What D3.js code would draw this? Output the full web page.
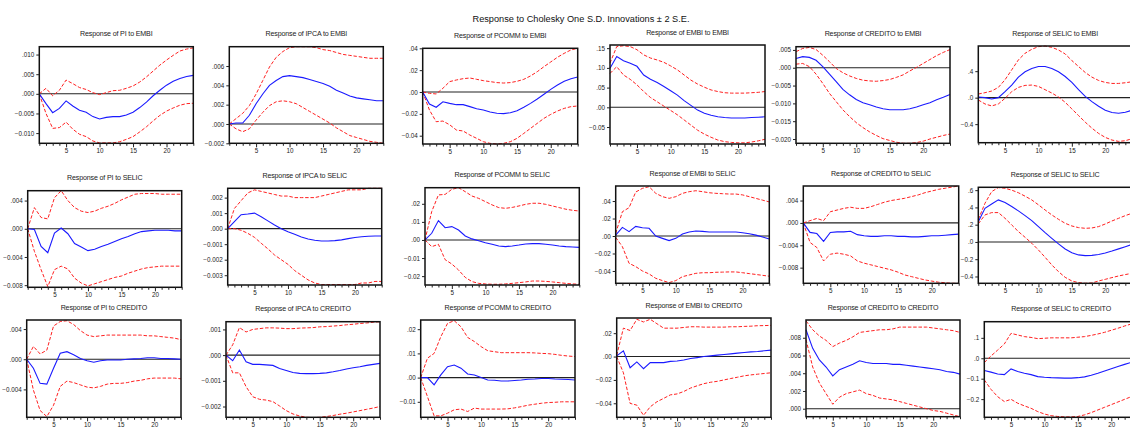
<!DOCTYPE html>
<html>
<head>
<meta charset="utf-8">
<script src="https://cdn.jsdelivr.net/npm/d3@7"></script>
<style>
  body { margin: 0; background: #fff; }
  svg { display: block; font-family: "Liberation Sans", Arial, sans-serif; }
</style>
</head>
<body>
<svg id="chart"></svg>
<script>
var width = 1130;
var height = 428;

// horizon (periods) and variable names
var periods = d3.range(1, 25);
var responses = ["PI", "IPCA", "PCOMM", "EMBI", "CREDITO", "SELIC"];
var shocks = ["EMBI", "SELIC", "CREDITO"];
var mainTitle = "Response to Cholesky One S.D. Innovations \u00b1 2 S.E.";

// ---- shock: EMBI ----
var piEmbi   = [0, -0.0025, -0.0048, -0.0037, -0.0018, -0.0031, -0.0042, -0.0047, -0.0058, -0.0064, -0.0060, -0.0058, -0.0058, -0.0054, -0.0047, -0.0035, -0.0021, -0.0005, 0.0009, 0.0022, 0.0032, 0.0039, 0.0044, 0.0047];
var piEmbiHi = [0, 0.0014, -0.0005, 0.0009, 0.0035, 0.0026, 0.0016, 0.0011, 0.0003, -0.0002, 0.0003, 0.0008, 0.0009, 0.0014, 0.0020, 0.0030, 0.0043, 0.0058, 0.0073, 0.0086, 0.0098, 0.0109, 0.0114, 0.0117];
var piEmbiLo = [0, -0.0050, -0.0088, -0.0086, -0.0072, -0.0090, -0.0103, -0.0109, -0.0120, -0.0125, -0.0125, -0.0125, -0.0122, -0.0116, -0.0109, -0.0097, -0.0084, -0.0069, -0.0055, -0.0044, -0.0036, -0.0029, -0.0025, -0.0024];

var ipcaEmbi   = [0, 0.0001, 0.0001, 0.0009, 0.0021, 0.0031, 0.0040, 0.0045, 0.0049, 0.0050, 0.0049, 0.0048, 0.0046, 0.0044, 0.0042, 0.0039, 0.0035, 0.0032, 0.0029, 0.0027, 0.0026, 0.0025, 0.0024, 0.0024];
var ipcaEmbiHi = [0, 0.00055, 0.0011, 0.0019, 0.0031, 0.0045, 0.0059, 0.0069, 0.0075, 0.0079, 0.0080, 0.0080, 0.0080, 0.0079, 0.0077, 0.0076, 0.0074, 0.0072, 0.0071, 0.0070, 0.0069, 0.0068, 0.0068, 0.0068];
var ipcaEmbiLo = [0, -0.0005, -0.0008, -0.0005, 0.0004, 0.0012, 0.0019, 0.0023, 0.0024, 0.0023, 0.0021, 0.0017, 0.0013, 0.0009, 0.0005, 0.0001, -0.0004, -0.0008, -0.0012, -0.0014, -0.0016, -0.0018, -0.0019, -0.0020];

var pcommEmbi   = [0, -0.011, -0.014, -0.009, -0.0104, -0.0116, -0.0116, -0.0134, -0.0153, -0.0165, -0.0183, -0.0195, -0.0198, -0.019, -0.0171, -0.014, -0.0104, -0.0064, -0.0021, 0.0024, 0.0064, 0.0098, 0.0122, 0.0137];
var pcommEmbiHi = [0, -0.0012, -0.0018, 0.0034, 0.0095, 0.011, 0.0122, 0.0128, 0.0116, 0.0104, 0.0095, 0.0086, 0.0082, 0.0086, 0.0098, 0.0116, 0.0147, 0.0186, 0.0232, 0.0275, 0.0318, 0.0354, 0.0385, 0.040];
var pcommEmbiLo = [0, -0.0165, -0.0272, -0.0266, -0.030, -0.0348, -0.0357, -0.0394, -0.0424, -0.0455, -0.047, -0.0476, -0.047, -0.0455, -0.0424, -0.0379, -0.0333, -0.0287, -0.0241, -0.0205, -0.0174, -0.015, -0.0134, -0.0128];

var embiEmbi   = [0.099, 0.129, 0.118, 0.112, 0.104, 0.082, 0.071, 0.063, 0.053, 0.042, 0.031, 0.017, 0.005, -0.007, -0.015, -0.020, -0.024, -0.026, -0.027, -0.027, -0.027, -0.026, -0.025, -0.024];
var embiEmbiHi = [0.112, 0.154, 0.156, 0.154, 0.146, 0.133, 0.125, 0.120, 0.114, 0.105, 0.095, 0.082, 0.069, 0.059, 0.051, 0.044, 0.040, 0.037, 0.036, 0.036, 0.036, 0.037, 0.038, 0.040];
var embiEmbiLo = [0.086, 0.103, 0.082, 0.071, 0.057, 0.040, 0.025, 0.014, 0.003, -0.008, -0.019, -0.032, -0.045, -0.058, -0.068, -0.076, -0.083, -0.087, -0.089, -0.090, -0.090, -0.088, -0.085, -0.081];

var credEmbi   = [0.0026, 0.0031, 0.0029, 0.0021, 0.0003, -0.0018, -0.0039, -0.0061, -0.0076, -0.0089, -0.0098, -0.0104, -0.011, -0.0115, -0.0118, -0.0118, -0.0118, -0.0115, -0.011, -0.0104, -0.0098, -0.009, -0.0083, -0.0075];
var credEmbiHi = [0.0045, 0.0054, 0.0057, 0.0051, 0.0035, 0.0017, -0.0002, -0.0014, -0.0023, -0.003, -0.0035, -0.0037, -0.0038, -0.0036, -0.0033, -0.0027, -0.002, -0.0009, 0.0001, 0.0012, 0.0023, 0.0034, 0.0043, 0.0051];
var credEmbiLo = [0.001, 0.0012, 0.0003, -0.0018, -0.0044, -0.0072, -0.0095, -0.0118, -0.0137, -0.0154, -0.0168, -0.018, -0.019, -0.0199, -0.0204, -0.0209, -0.0212, -0.0212, -0.021, -0.0206, -0.020, -0.0195, -0.019, -0.0186];

var selicEmbi   = [0.01, 0, -0.02, 0, 0.09, 0.19, 0.31, 0.39, 0.44, 0.47, 0.47, 0.44, 0.39, 0.32, 0.23, 0.12, 0.02, -0.06, -0.13, -0.19, -0.225, -0.235, -0.22, -0.19];
var selicEmbiHi = [0.055, 0.075, 0.10, 0.155, 0.27, 0.42, 0.57, 0.67, 0.73, 0.77, 0.78, 0.76, 0.72, 0.66, 0.56, 0.47, 0.38, 0.31, 0.26, 0.23, 0.215, 0.215, 0.225, 0.24];
var selicEmbiLo = [-0.035, -0.095, -0.125, -0.095, -0.01, 0.09, 0.155, 0.185, 0.19, 0.17, 0.12, 0.07, 0.01, -0.07, -0.17, -0.27, -0.37, -0.46, -0.54, -0.60, -0.64, -0.66, -0.65, -0.62];

// ---- shock: SELIC ----
var piSelic   = [0, -0.0001, -0.0025, -0.0034, -0.0006, 0.0001, -0.0007, -0.0021, -0.0026, -0.0031, -0.0029, -0.0025, -0.0022, -0.0018, -0.0014, -0.0011, -0.0007, -0.0004, -0.0003, -0.0002, -0.0002, -0.0002, -0.0003, -0.0003];
var piSelicHi = [0, 0.003, 0.0016, 0.0014, 0.0044, 0.0054, 0.004, 0.003, 0.0025, 0.0023, 0.0025, 0.0029, 0.0032, 0.0036, 0.0041, 0.0045, 0.0049, 0.005, 0.005, 0.005, 0.0049, 0.0049, 0.0049, 0.0049];
var piSelicLo = [0, -0.0032, -0.0058, -0.0082, -0.0058, -0.0053, -0.0057, -0.007, -0.0077, -0.0081, -0.0078, -0.0075, -0.0072, -0.0069, -0.0067, -0.0063, -0.006, -0.0057, -0.0055, -0.0054, -0.0053, -0.0053, -0.0053, -0.0053];

var ipcaSelic   = [0, 0.00045, 0.0009, 0.00094, 0.001, 0.00077, 0.0005, 0.00024, 0, -0.0002, -0.00036, -0.00054, -0.00067, -0.00075, -0.0008, -0.0008, -0.00077, -0.00072, -0.00064, -0.00057, -0.00052, -0.00049, -0.00047, -0.00047];
var ipcaSelicHi = [0, 0.0013, 0.0018, 0.0023, 0.0025, 0.0024, 0.0023, 0.0022, 0.0021, 0.0021, 0.002, 0.002, 0.002, 0.002, 0.0021, 0.0022, 0.0023, 0.0024, 0.0025, 0.0025, 0.0025, 0.0026, 0.0026, 0.0026];
var ipcaSelicLo = [0, 0, -0.0001, -0.0003, -0.00056, -0.00094, -0.0013, -0.0017, -0.002, -0.0023, -0.0027, -0.003, -0.0033, -0.0035, -0.0036, -0.0036, -0.0036, -0.0036, -0.0036, -0.0036, -0.0035, -0.0035, -0.0034, -0.0034];

var pcommSelic   = [0, 0.0037, 0.0107, 0.0068, 0.0074, 0.0055, 0.0022, 0.0006, -0.0004, -0.0015, -0.0024, -0.0033, -0.0037, -0.0033, -0.0028, -0.0022, -0.002, -0.002, -0.0024, -0.0028, -0.0033, -0.0037, -0.0039, -0.0041];
var pcommSelicHi = [0, 0.0157, 0.0249, 0.0252, 0.028, 0.0289, 0.0267, 0.0243, 0.023, 0.0212, 0.0194, 0.0179, 0.0175, 0.018, 0.0188, 0.0197, 0.0203, 0.0203, 0.0197, 0.0188, 0.0179, 0.017, 0.0164, 0.016];
var pcommSelicLo = [0, -0.0037, -0.0024, -0.0109, -0.0133, -0.0166, -0.0207, -0.023, -0.024, -0.0243, -0.0245, -0.0245, -0.0243, -0.024, -0.0236, -0.0232, -0.0227, -0.0227, -0.0229, -0.0232, -0.0236, -0.024, -0.0243, -0.0245];

var embiSelic   = [0.001, 0.0099, 0.005, 0.011, 0.0095, 0.0088, 0, -0.0027, -0.0053, -0.0027, 0.0023, 0.0046, 0.0057, 0.0053, 0.0046, 0.0046, 0.0046, 0.0046, 0.0045, 0.0038, 0.0025, 0.001, -0.0012, -0.0035];
var embiSelicHi = [0.003, 0.0278, 0.0324, 0.0503, 0.0545, 0.0564, 0.0488, 0.045, 0.0431, 0.045, 0.0488, 0.0507, 0.0518, 0.0507, 0.0495, 0.0488, 0.0484, 0.048, 0.048, 0.047, 0.045, 0.043, 0.041, 0.039];
var embiSelicLo = [-0.0015, -0.0122, -0.0312, -0.035, -0.040, -0.0434, -0.0484, -0.051, -0.0533, -0.051, -0.0465, -0.0446, -0.0427, -0.042, -0.042, -0.0415, -0.0413, -0.0411, -0.0411, -0.042, -0.043, -0.044, -0.045, -0.046];

var credSelic   = [0, -0.0017, -0.0019, -0.0033, -0.0017, -0.0016, -0.0016, -0.0015, -0.0021, -0.0023, -0.0024, -0.0024, -0.0023, -0.0023, -0.0024, -0.0024, -0.0025, -0.0025, -0.0024, -0.0023, -0.0023, -0.0022, -0.0021, -0.002];
var credSelicHi = [0, 0.0004, 0.0008, 0.0004, 0.002, 0.0023, 0.0026, 0.0028, 0.0026, 0.0026, 0.0029, 0.0033, 0.0037, 0.004, 0.0042, 0.0044, 0.0047, 0.005, 0.0054, 0.0057, 0.006, 0.0062, 0.0064, 0.0066];
var credSelicLo = [0, -0.0035, -0.0044, -0.0068, -0.0056, -0.0054, -0.0056, -0.0059, -0.0068, -0.0072, -0.0075, -0.0078, -0.0081, -0.0084, -0.0088, -0.0093, -0.0096, -0.0099, -0.0102, -0.0104, -0.0106, -0.0107, -0.0108, -0.0108];

var selicSelic   = [0.235, 0.39, 0.44, 0.487, 0.456, 0.41, 0.36, 0.305, 0.247, 0.178, 0.108, 0.042, -0.023, -0.081, -0.124, -0.15, -0.158, -0.155, -0.145, -0.128, -0.105, -0.08, -0.055, -0.03];
var selicSelicHi = [0.26, 0.448, 0.583, 0.63, 0.622, 0.6, 0.57, 0.53, 0.487, 0.43, 0.37, 0.313, 0.262, 0.216, 0.185, 0.166, 0.158, 0.162, 0.178, 0.208, 0.243, 0.274, 0.305, 0.332];
var selicSelicLo = [0.21, 0.313, 0.34, 0.34, 0.274, 0.197, 0.12, 0.054, -0.015, -0.093, -0.178, -0.266, -0.344, -0.41, -0.452, -0.471, -0.479, -0.475, -0.452, -0.433, -0.413, -0.394, -0.378, -0.363];

// ---- shock: CREDITO ----
var piCred   = [0, -0.0012, -0.0032, -0.0033, -0.0012, 0.0008, 0.001, 0.0006, 0.0001, -0.0002, -0.0004, -0.0002, -0.0001, -0.0001, -0.0001, 0, 0.00005, 0.0001, 0.0002, 0.0002, 0.0001, 0.0001, 0.00005, 0];
var piCredHi = [0, 0.0017, 0.0007, 0.0012, 0.0044, 0.005, 0.0051, 0.0046, 0.0038, 0.0032, 0.003, 0.0031, 0.0032, 0.0032, 0.0032, 0.0032, 0.0032, 0.0032, 0.0031, 0.0031, 0.003, 0.0029, 0.0028, 0.0026];
var piCredLo = [0, -0.0041, -0.0068, -0.0076, -0.0061, -0.0036, -0.0029, -0.0031, -0.0034, -0.0037, -0.0038, -0.0036, -0.0033, -0.0032, -0.0032, -0.0031, -0.0029, -0.0028, -0.0026, -0.0025, -0.0025, -0.0025, -0.0025, -0.0026];

var ipcaCred   = [0, -0.00022, 0.0002, -0.00026, -0.00036, -0.00036, -0.00038, -0.0004, -0.00052, -0.0006, -0.00068, -0.00071, -0.00072, -0.00072, -0.00071, -0.00069, -0.00065, -0.0006, -0.00054, -0.00049, -0.00045, -0.0004, -0.00036, -0.00032];
var ipcaCredHi = [0, 0.0004, 0.00107, 0.0009, 0.001, 0.00103, 0.00106, 0.00106, 0.00105, 0.00103, 0.00103, 0.00105, 0.00106, 0.00107, 0.0011, 0.00111, 0.00113, 0.00115, 0.00118, 0.0012, 0.00123, 0.00125, 0.00128, 0.0013];
var ipcaCredLo = [0, -0.00069, -0.00069, -0.00123, -0.00162, -0.00172, -0.00175, -0.00181, -0.00198, -0.00216, -0.00229, -0.00237, -0.00242, -0.00243, -0.00242, -0.00239, -0.00235, -0.0023, -0.00226, -0.00221, -0.00216, -0.00211, -0.00206, -0.002];

var pcommCred   = [0, 0, -0.003, 0.0011, 0.0045, 0.0052, 0.0039, 0.0015, 0.0011, 0, -0.001, -0.0011, -0.0014, -0.0014, -0.0012, -0.001, -0.0007, -0.0006, -0.0004, -0.0004, -0.0006, -0.0007, -0.0008, -0.001];
var pcommCredHi = [0, 0.008, 0.01, 0.0169, 0.0224, 0.0235, 0.021, 0.0166, 0.0149, 0.0128, 0.0111, 0.0107, 0.0103, 0.0103, 0.0103, 0.0103, 0.0103, 0.0102, 0.01, 0.0099, 0.0096, 0.0092, 0.0089, 0.0087];
var pcommCredLo = [0, -0.0078, -0.0158, -0.0158, -0.0147, -0.0133, -0.013, -0.014, -0.0126, -0.013, -0.013, -0.013, -0.013, -0.0129, -0.0125, -0.012, -0.0114, -0.011, -0.0106, -0.0103, -0.0102, -0.010, -0.010, -0.010];

var embiCred   = [0.0006, 0.0049, -0.0096, -0.0046, -0.0104, -0.0052, -0.0052, -0.0052, -0.0041, -0.0038, -0.0029, -0.0017, -0.0009, 0, 0.0006, 0.0012, 0.0017, 0.0023, 0.0029, 0.0035, 0.004, 0.0043, 0.0049, 0.0055];
var embiCredHi = [0.001, 0.0243, 0.0223, 0.0319, 0.0296, 0.0319, 0.0281, 0.0243, 0.0243, 0.0243, 0.0249, 0.0255, 0.0255, 0.0252, 0.0252, 0.0252, 0.0252, 0.0255, 0.0255, 0.0258, 0.026, 0.0264, 0.0265, 0.0267];
var embiCredLo = [0, -0.0139, -0.0401, -0.0416, -0.0503, -0.043, -0.0387, -0.0358, -0.0328, -0.032, -0.0299, -0.027, -0.025, -0.0232, -0.022, -0.0212, -0.02, -0.0188, -0.0177, -0.0165, -0.0157, -0.0151, -0.0145, -0.0139];

var credCred   = [0.0089, 0.0068, 0.0055, 0.0047, 0.0037, 0.0044, 0.0047, 0.005, 0.0054, 0.0052, 0.0051, 0.0051, 0.0051, 0.005, 0.005, 0.0049, 0.0048, 0.0047, 0.0046, 0.0045, 0.0044, 0.0042, 0.0041, 0.0039];
var credCredHi = [0.0099, 0.0089, 0.0082, 0.0077, 0.007, 0.0074, 0.0077, 0.0081, 0.0086, 0.0087, 0.0088, 0.0089, 0.0089, 0.009, 0.0092, 0.0092, 0.0092, 0.0092, 0.0092, 0.0091, 0.009, 0.0089, 0.0088, 0.0086];
var credCredLo = [0.0078, 0.0047, 0.0029, 0.0017, 0.0005, 0.0013, 0.0017, 0.0019, 0.0021, 0.0017, 0.0015, 0.0012, 0.0011, 0.001, 0.0008, 0.0006, 0.0004, 0.0002, 0, -0.0002, -0.0003, -0.0005, -0.0007, -0.0009];

var selicCred   = [-0.06, -0.068, -0.077, -0.08, -0.052, -0.065, -0.073, -0.08, -0.09, -0.093, -0.095, -0.096, -0.097, -0.097, -0.095, -0.091, -0.083, -0.073, -0.062, -0.051, -0.04, -0.03, -0.02, -0.012];
var selicCredHi = [-0.021, 0.011, 0.04, 0.07, 0.122, 0.114, 0.106, 0.102, 0.096, 0.098, 0.1, 0.1, 0.1, 0.1, 0.103, 0.106, 0.112, 0.119, 0.127, 0.137, 0.147, 0.158, 0.168, 0.176];
var selicCredLo = [-0.106, -0.152, -0.188, -0.212, -0.201, -0.22, -0.233, -0.245, -0.261, -0.273, -0.281, -0.285, -0.287, -0.287, -0.285, -0.277, -0.266, -0.253, -0.24, -0.227, -0.214, -0.201, -0.188, -0.176];

// y tick labels of each panel (row by row)
var yTicks = [
  [0.010, 0.005, 0, -0.005, -0.010],
  [0.006, 0.004, 0.002, 0, -0.002],
  [0.04, 0.02, 0, -0.02, -0.04],
  [0.15, 0.10, 0.05, 0, -0.05],
  [0.005, 0, -0.005, -0.010, -0.015, -0.020],
  [0.4, 0, -0.4],
  [0.004, 0, -0.004, -0.008],
  [0.002, 0.001, 0, -0.001, -0.002, -0.003],
  [0.02, 0.01, 0, -0.01, -0.02],
  [0.04, 0.02, 0, -0.02, -0.04],
  [0.004, 0, -0.004, -0.008],
  [0.6, 0.4, 0.2, 0, -0.2, -0.4],
  [0.004, 0, -0.004],
  [0.001, 0, -0.001, -0.002],
  [0.02, 0.01, 0, -0.01],
  [0.02, 0, -0.02, -0.04],
  [0.008, 0.006, 0.004, 0.002, 0],
  [0.1, 0, -0.1, -0.2]
];
var yDecimals = [3, 3, 2, 2, 3, 1, 3, 3, 2, 2, 3, 1, 3, 3, 2, 2, 3, 1];
var yRanges = [
  [-0.0126, 0.012], [-0.002, 0.008], [-0.0476, 0.04], [-0.093, 0.158], [-0.0212, 0.0059], [-0.68, 0.78],
  [-0.0083, 0.0054], [-0.00363, 0.0026], [-0.0249, 0.0289], [-0.0541, 0.0572], [-0.0108, 0.0066], [-0.479, 0.633],
  [-0.0077, 0.0052], [-0.00242, 0.0013], [-0.0164, 0.0238], [-0.052, 0.033], [-0.0009, 0.010], [-0.289, 0.179]
];

var series = [
  [piEmbi, piEmbiLo, piEmbiHi], [ipcaEmbi, ipcaEmbiLo, ipcaEmbiHi], [pcommEmbi, pcommEmbiLo, pcommEmbiHi],
  [embiEmbi, embiEmbiLo, embiEmbiHi], [credEmbi, credEmbiLo, credEmbiHi], [selicEmbi, selicEmbiLo, selicEmbiHi],
  [piSelic, piSelicLo, piSelicHi], [ipcaSelic, ipcaSelicLo, ipcaSelicHi], [pcommSelic, pcommSelicLo, pcommSelicHi],
  [embiSelic, embiSelicLo, embiSelicHi], [credSelic, credSelicLo, credSelicHi], [selicSelic, selicSelicLo, selicSelicHi],
  [piCred, piCredLo, piCredHi], [ipcaCred, ipcaCredLo, ipcaCredHi], [pcommCred, pcommCredLo, pcommCredHi],
  [embiCred, embiCredLo, embiCredHi], [credCred, credCredLo, credCredHi], [selicCred, selicCredLo, selicCredHi]
];

// plot frames [left, top, right, bottom] - each panel sits a little differently
var frames = [
  [39.3, 46.7, 193.3, 143.3], [229.3, 46.7, 383.3, 143.3], [422.7, 48.3, 577.7, 144], [610, 45, 765, 144], [796, 46.7, 950, 143.3], [978.3, 46, 1132, 142.7],
  [27.7, 190.7, 181.7, 287.3], [227.7, 188.3, 381.7, 285], [425, 187.7, 579.3, 285], [615.7, 186, 769.3, 283.3], [803.3, 186, 958.7, 283.3], [978.3, 187.3, 1132, 283.3],
  [26.7, 320, 181, 417.3], [226, 321.7, 380, 417.3], [420.7, 320, 575, 417.3], [616.7, 318, 771, 417.3], [806, 320, 960, 416.7], [984.3, 321.7, 1138, 417.3]
];

var svg = d3.select("#chart").attr("width", width).attr("height", height);

svg.append("text")
  .attr("x", 581).attr("y", 21.5)
  .attr("text-anchor", "middle")
  .attr("font-size", 9.2)
  .attr("fill", "#111")
  .text(mainTitle);

function tickFmt(dec) {
  var f = d3.format("." + dec + "f");
  return function(v) { return f(v).replace(/^(-?)0\./, "$1."); };
}

series.forEach(function(s, i) {
  var fr = frames[i];
  var row = Math.floor(i / 6), col = i % 6;
  var title = "Response of " + responses[col] + " to " + shocks[row];

  var x = d3.scaleLinear().domain([1, 24]).range([fr[0], fr[2]]);
  var y = d3.scaleLinear().domain(yRanges[i]).range([fr[3], fr[1]]);

  var g = svg.append("g");

  g.append("text")
    .attr("x", (fr[0] + fr[2]) / 2).attr("y", fr[1] - 10.5)
    .attr("text-anchor", "middle")
    .attr("font-size", 7.1)
    .attr("letter-spacing", -0.15)
    .attr("fill", "#222")
    .text(title);

  // zero line
  g.append("line")
    .attr("x1", fr[0]).attr("x2", fr[2])
    .attr("y1", y(0)).attr("y2", y(0))
    .attr("stroke", "#222").attr("stroke-width", 1.1);

  var line = d3.line()
    .x(function(d, k) { return x(periods[k]); })
    .y(function(d) { return y(d); });

  [s[1], s[2]].forEach(function(band) {
    g.append("path")
      .attr("d", line(band))
      .attr("fill", "none")
      .attr("stroke", "#ff2020")
      .attr("stroke-width", 1)
      .attr("stroke-dasharray", "3.5,1.8");
  });

  g.append("path")
    .attr("d", line(s[0]))
    .attr("fill", "none")
    .attr("stroke", "#1a1aff")
    .attr("stroke-width", 1.1);

  // frame
  g.append("rect")
    .attr("x", fr[0]).attr("y", fr[1])
    .attr("width", fr[2] - fr[0]).attr("height", fr[3] - fr[1])
    .attr("fill", "none")
    .attr("stroke", "#111").attr("stroke-width", 1.5);

  var yAxis = g.append("g")
    .attr("transform", "translate(" + fr[0] + ",0)")
    .call(d3.axisLeft(y).tickValues(yTicks[i]).tickFormat(tickFmt(yDecimals[i])).tickSize(3).tickPadding(2));
  yAxis.select(".domain").remove();

  var xAxis = g.append("g")
    .attr("transform", "translate(0," + fr[3] + ")")
    .call(d3.axisBottom(x).tickValues(periods)
      .tickFormat(function(d) { return d % 5 === 0 ? d : ""; })
      .tickSize(2.5).tickPadding(3));
  xAxis.select(".domain").remove();
  xAxis.selectAll(".tick line").attr("y2", function(d) { return d % 5 === 0 ? 4 : 2.5; });

  g.selectAll(".tick text")
    .attr("font-size", 6.3)
    .attr("font-family", "Liberation Sans, Arial, sans-serif")
    .attr("fill", "#222");
  g.selectAll(".tick line").attr("stroke", "#222");
});
</script>
</body>
</html>
